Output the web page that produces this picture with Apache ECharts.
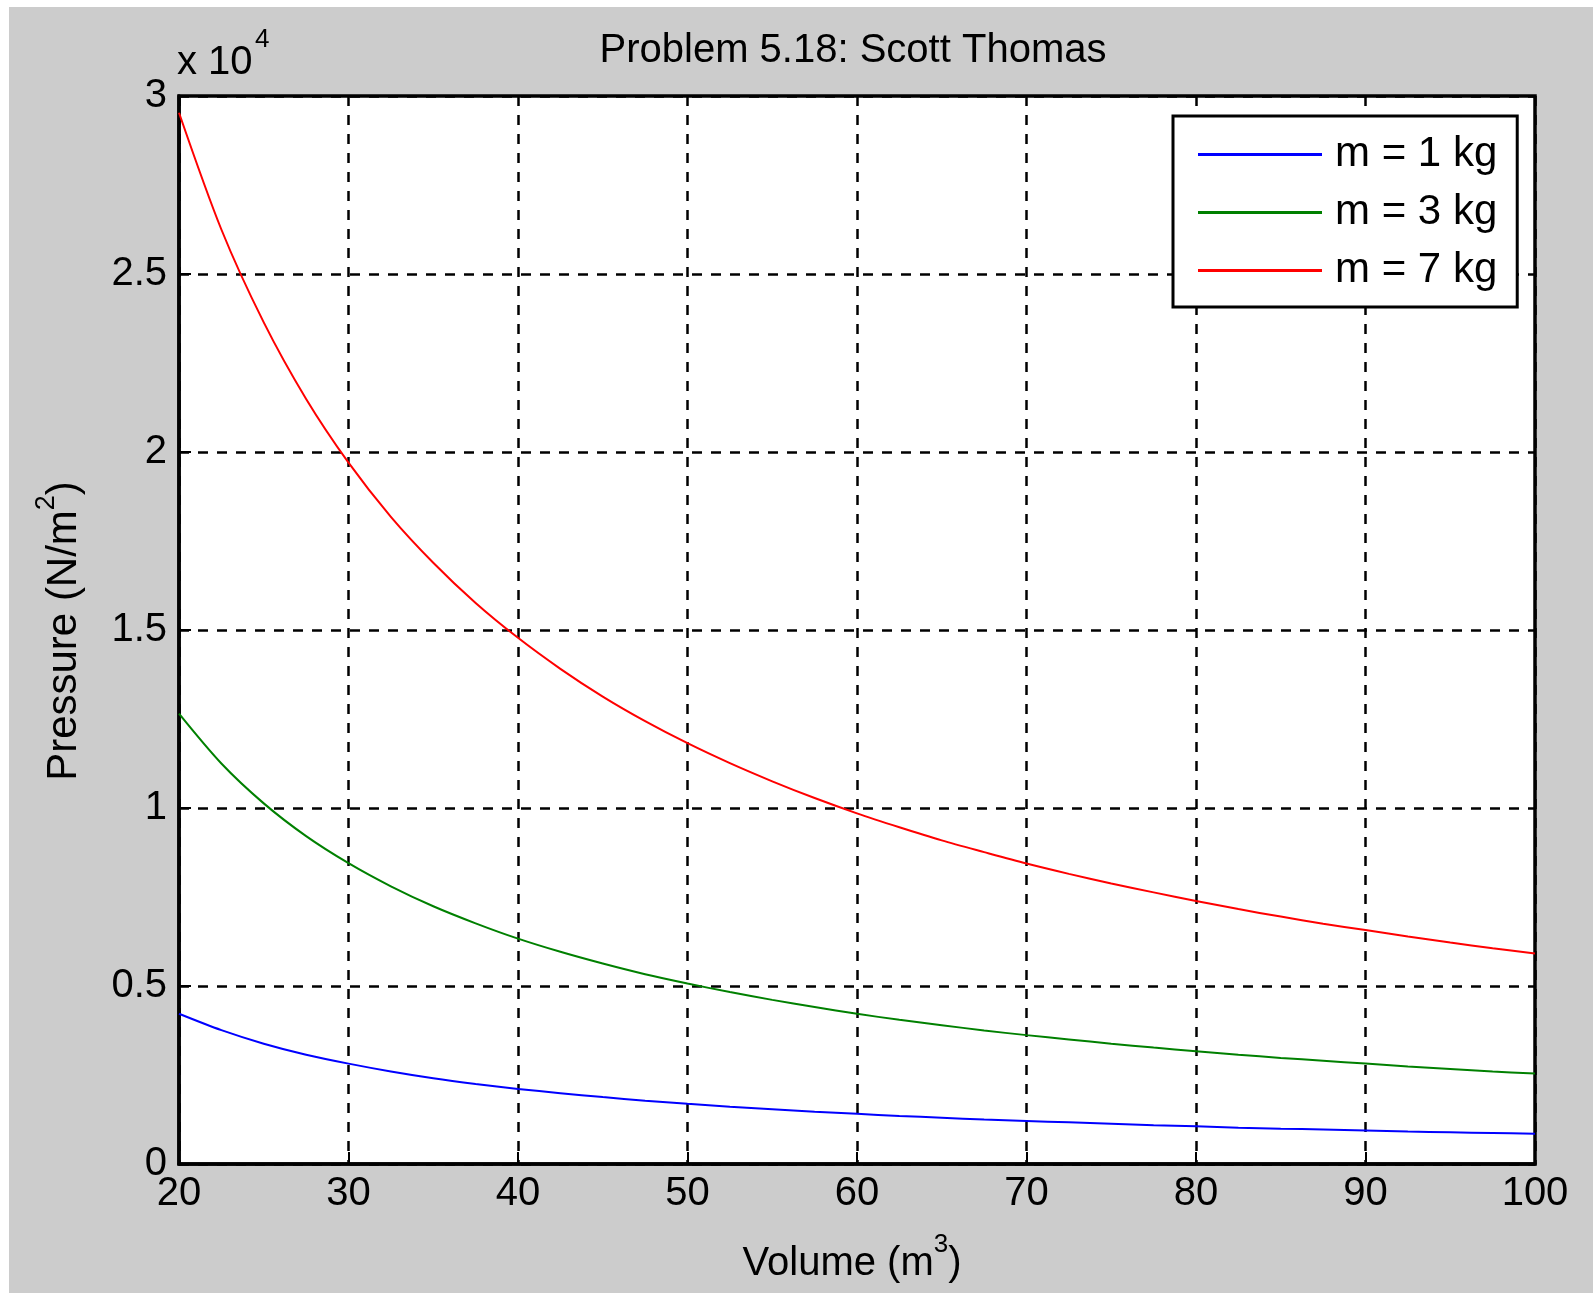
<!DOCTYPE html>
<html>
<head>
<meta charset="utf-8">
<script src="https://cdn.jsdelivr.net/npm/echarts@6/dist/echarts.min.js"></script>
<style>
html,body{margin:0;padding:0;background:#ffffff;width:1593px;height:1293px;overflow:hidden}
#c{position:absolute;left:9px;top:7px;width:1584px;height:1286px}
</style>
</head>
<body>
<div id="c"></div>
<script>
// Volume (m^3) sample points
const volume = [20, 22.5, 25, 27.5, 30, 32.5, 35, 37.5, 40, 42.5, 45, 47.5, 50, 52.5, 55, 57.5, 60,
  62.5, 65, 67.5, 70, 72.5, 75, 77.5, 80, 82.5, 85, 87.5, 90, 92.5, 95, 97.5, 100];
// Pressure (N/m^2)
const pressure1kg = [4220, 3760, 3380, 3070, 2820, 2600, 2410, 2250, 2110, 1990, 1880, 1780, 1690, 1610, 1540, 1470, 1410,
  1350, 1300, 1250, 1210, 1170, 1130, 1090, 1060, 1020, 990, 970, 940, 910, 890, 870, 850];
const pressure3kg = [12650, 11250, 10130, 9210, 8450, 7800, 7240, 6760, 6330, 5960, 5630, 5330, 5070, 4830, 4610, 4410, 4220,
  4050, 3900, 3750, 3620, 3500, 3380, 3270, 3170, 3070, 2980, 2900, 2820, 2740, 2670, 2600, 2540];
const pressure7kg = [29530, 26250, 23640, 21490, 19700, 18180, 16890, 15760, 14780, 13910, 13130, 12440, 11820, 11260, 10750, 10280, 9850,
  9460, 9090, 8760, 8440, 8150, 7880, 7630, 7390, 7160, 6950, 6750, 6570, 6390, 6220, 6060, 5910];
const seriesNames = ['m = 1 kg', 'm = 3 kg', 'm = 7 kg'];
const seriesColors = ['#0000ff', '#008000', '#ff0000'];
const titleText = 'Problem 5.18: Scott Thomas';
const yScaleLabel = 'x 10';
const yScaleExp = '4';

const FONT = "'Liberation Sans', Arial, sans-serif";
const chart = echarts.init(document.getElementById('c'), null, {renderer: 'canvas'});
const allSeries = [pressure1kg, pressure3kg, pressure7kg];

const option = {
  animation: false,
  backgroundColor: '#cccccc',
  textStyle: {fontFamily: FONT},
  grid: {
    left: 170, top: 89, width: 1356, height: 1068,
    show: true, backgroundColor: '#ffffff', borderColor: '#000000', borderWidth: 3.5
  },
  xAxis: {
    type: 'value', min: 20, max: 100, interval: 10,
    axisLine: {show: true, lineStyle: {color: '#000', width: 3.5}},
    axisTick: {show: true, inside: true, length: 12, lineStyle: {color: '#000', width: 2}},
    axisLabel: {color: '#000', fontSize: 40, fontFamily: FONT, margin: 10},
    splitLine: {show: true, lineStyle: {color: '#000', width: 2.5, type: [10, 9]}}
  },
  yAxis: {
    type: 'value', min: 0, max: 30000, interval: 5000,
    axisLine: {show: true, lineStyle: {color: '#000', width: 3.5}},
    axisTick: {show: true, inside: true, length: 12, lineStyle: {color: '#000', width: 2}},
    axisLabel: {color: '#000', fontSize: 40, fontFamily: FONT, margin: 12,
      formatter: v => String(v / 10000)},
    splitLine: {show: true, lineStyle: {color: '#000', width: 2.5, type: [10, 9]}}
  },
  legend: {
    orient: 'vertical', left: 1164, top: 109,
    padding: [16, 20, 14, 25],
    itemWidth: 124, itemHeight: 3, icon: 'rect', itemGap: 13,
    borderColor: '#000', borderWidth: 3, backgroundColor: '#ffffff',
    textStyle: {fontSize: 42, lineHeight: 45, color: '#000', fontFamily: FONT, padding: [0, 0, 0, 8]},
    data: seriesNames
  },
  series: allSeries.map((arr, k) => ({
    name: seriesNames[k],
    type: 'line',
    data: volume.map((v, i) => [v, arr[i]]),
    symbol: 'none',
    showSymbol: false,
    smooth: 0.3,
    color: seriesColors[k],
    lineStyle: {color: seriesColors[k], width: 2},
    z: 5
  })),
  graphic: [
    {type: 'text', x: 844, y: 44, style: {text: titleText, fill: '#000', font: '40px ' + FONT, align: 'center', verticalAlign: 'middle'}},
    {type: 'text', x: 168, y: 56, style: {text: yScaleLabel, fill: '#000', font: '40px ' + FONT, align: 'left', verticalAlign: 'middle'}},
    {type: 'text', x: 246, y: 33, style: {text: yScaleExp, fill: '#000', font: '26px ' + FONT, align: 'left', verticalAlign: 'middle'}},
    {type: 'text', x: 843, y: 1251, style: {
      text: '{a|Volume (m}{s|3}{a|)}', align: 'center', verticalAlign: 'middle',
      rich: {
        a: {fontSize: 40, fontFamily: FONT, fill: '#000', color: '#000', lineHeight: 52, verticalAlign: 'bottom'},
        s: {fontSize: 26, fontFamily: FONT, fill: '#000', color: '#000', lineHeight: 26, verticalAlign: 'top'}
      }
    }},
    {type: 'text', x: 50, y: 624, rotation: Math.PI / 2, style: {
      text: '{a|Pressure (N/m}{s|2}{a|)}', align: 'center', verticalAlign: 'middle',
      rich: {
        a: {fontSize: 42, fontFamily: FONT, fill: '#000', color: '#000', lineHeight: 52, verticalAlign: 'bottom'},
        s: {fontSize: 27, fontFamily: FONT, fill: '#000', color: '#000', lineHeight: 27, verticalAlign: 'top'}
      }
    }}
  ]
};
chart.setOption(option);
</script>
</body>
</html>
